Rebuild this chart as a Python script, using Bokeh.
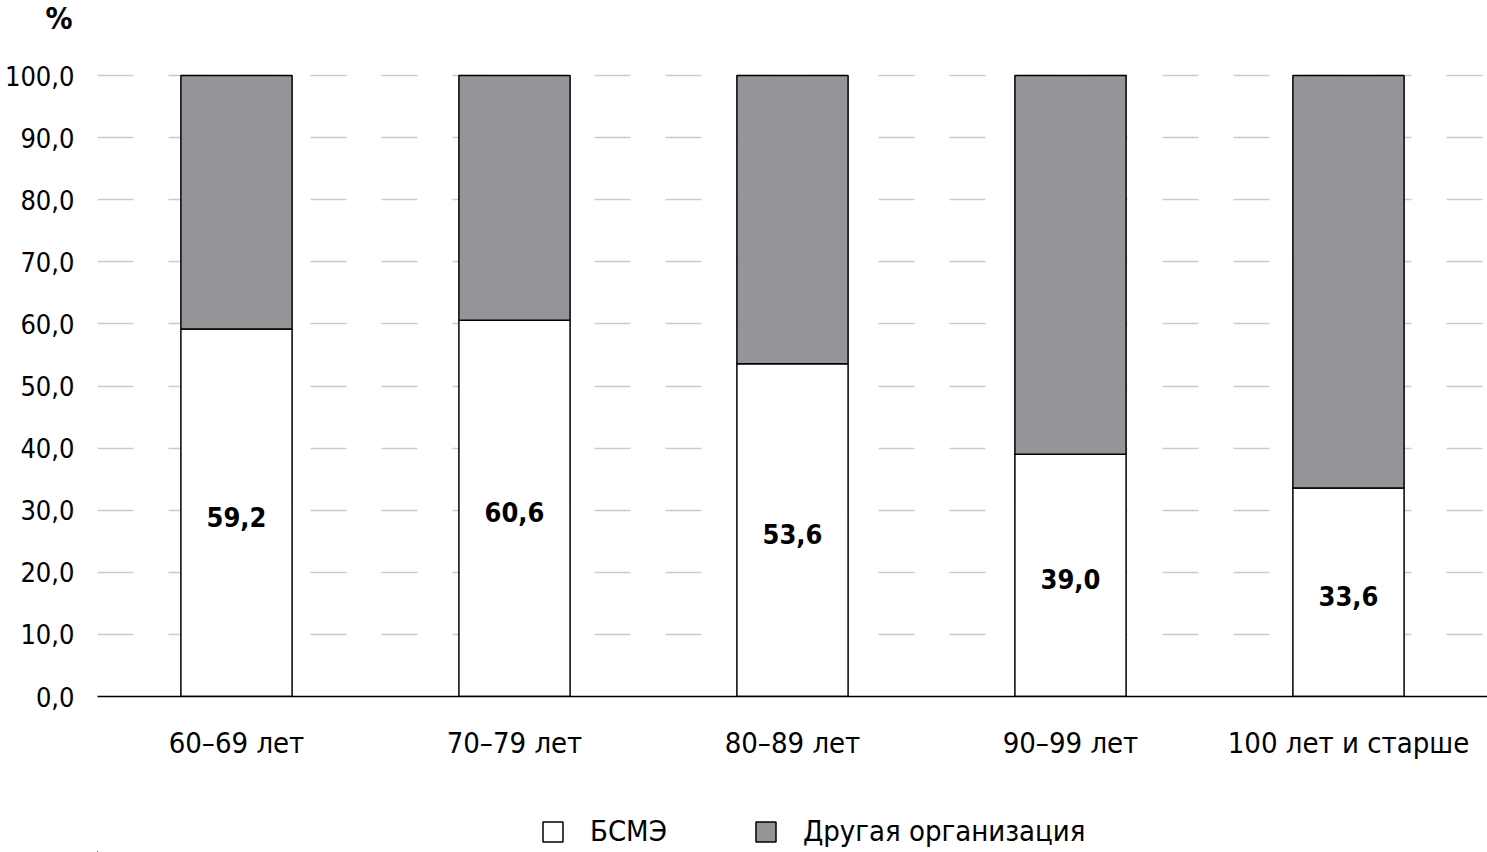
from bokeh.plotting import figure
from bokeh.layouts import column
from bokeh.models import (ColumnDataSource, FixedTicker, Legend, LegendItem, Title, Range1d)
from bokeh.embed import file_html
from bokeh.resources import INLINE
from bokeh.core.properties import value

# ---- data ----
categories = ["60–69 лет", "70–79 лет", "80–89 лет", "90–99 лет", "100 лет и старше"]
bsme = [59.2, 60.6, 53.6, 39.0, 33.6]
other = [40.8, 39.4, 46.4, 61.0, 66.4]
y_ticks = [0, 10, 20, 30, 40, 50, 60, 70, 80, 90, 100]
y_tick_labels = ["0,0", "10,0", "20,0", "30,0", "40,0", "50,0", "60,0", "70,0", "80,0", "90,0", "100,0"]
series_names = ["БСМЭ", "Другая организация"]
unit_label = "%"

FONT = "DejaVu Sans Condensed"
GRAY = "#939598"

xs = list(range(len(categories)))
tops = [b + o for b, o in zip(bsme, other)]
src = ColumnDataSource(dict(
    x=xs, bsme=bsme, top=tops,
    lab=[f"{v:.1f}".replace(".", ",") for v in bsme],
    ly=[v / 2 for v in bsme],
))

p = figure(width=1487, height=800, output_backend="svg", toolbar_location=None,
           x_range=(-0.5, 4.5), y_range=(0, 100.5),
           min_border_left=97, min_border_right=0, min_border_top=72, min_border_bottom=104)
p.outline_line_color = None
p.background_fill_color = "white"

p.vbar(x="x", width=0.4, bottom=0, top="bsme", source=src,
       fill_color="white", line_color="black", line_width=1.5)
p.vbar(x="x", width=0.4, bottom="bsme", top="top", source=src,
       fill_color=GRAY, line_color="black", line_width=1.5)

p.text(x="x", y="ly", text="lab", source=src, text_align="center", text_baseline="middle",
       text_font=value(FONT), text_font_size="27px", text_font_style="bold",
       text_color="black", y_offset=4)

# grid
p.xgrid.grid_line_color = None
p.ygrid.ticker = FixedTicker(ticks=y_ticks)
p.ygrid.grid_line_color = "#cbcbcb"
p.ygrid.grid_line_width = 1.5
p.ygrid.grid_line_dash = "36 35"

# y axis
p.yaxis.ticker = FixedTicker(ticks=y_ticks)
p.yaxis.major_label_overrides = {t: l for t, l in zip(y_ticks, y_tick_labels)}
p.yaxis.axis_line_color = None
p.yaxis.major_tick_line_color = None
p.yaxis.minor_tick_line_color = None
p.yaxis.major_tick_out = 0
p.yaxis.major_tick_in = 0
p.yaxis.minor_tick_out = 0
p.yaxis.minor_tick_in = 0
p.yaxis.major_label_standoff = 23
p.yaxis.major_label_text_font = FONT
p.yaxis.major_label_text_font_size = "27px"
p.yaxis.major_label_text_color = "black"

# x axis
p.xaxis.ticker = FixedTicker(ticks=xs)
p.xaxis.major_label_overrides = {i: c for i, c in zip(xs, categories)}
p.xaxis.axis_line_color = "black"
p.xaxis.axis_line_width = 1.5
p.xaxis.major_tick_line_color = None
p.xaxis.minor_tick_line_color = None
p.xaxis.major_tick_out = 0
p.xaxis.major_tick_in = 0
p.xaxis.minor_tick_out = 0
p.xaxis.minor_tick_in = 0
p.xaxis.major_label_standoff = 29
p.xaxis.major_label_text_font = FONT
p.xaxis.major_label_text_font_size = "29px"
p.xaxis.major_label_text_color = "black"

# "%" unit label as title in the top border
p.title = Title(text=unit_label + "\n\u00a0", align="left", offset=-52, standoff=0,
                vertical_align="top", text_font=FONT, text_font_size="30px",
                text_font_style="bold", text_color="black", text_line_height=1.0)

# ---- legend strip below the chart (its frame is aligned with the chart's frame) ----
lg = figure(width=1487, height=52, output_backend="svg", toolbar_location=None,
            x_range=Range1d(10, 11), y_range=Range1d(1000, 1001),
            x_axis_type=None, y_axis_type=None,
            min_border_left=0, min_border_right=0, min_border_top=0, min_border_bottom=0)
lg.outline_line_color = None
lg.xgrid.visible = False
lg.ygrid.visible = False
# same series, lying outside this strip's view in both directions, only for the swatches
k1 = lg.vbar(x="x", top="bsme", width=0.4, source=src,
             fill_color="white", line_color="black", line_width=1.5)
k2 = lg.vbar(x="x", bottom="bsme", top="top", width=0.4, source=src,
             fill_color=GRAY, line_color="black", line_width=1.5)

legend = Legend(items=[LegendItem(label=series_names[0], renderers=[k1]),
                       LegendItem(label=series_names[1], renderers=[k2])],
                location=(443, 4), orientation="horizontal")
legend.border_line_color = None
legend.background_fill_alpha = 0
legend.padding = 0
legend.margin = 0
legend.glyph_width = 25
legend.glyph_height = 25
legend.label_height = 25
legend.label_standoff = 25
legend.spacing = 86
legend.label_text_font = FONT
legend.label_text_font_size = "29px"
legend.label_text_color = "black"
legend.label_text_baseline = "middle"
lg.add_layout(legend, "center")

layout = column(p, lg, spacing=0)
open("out.html", "w").write(file_html(layout, INLINE))
